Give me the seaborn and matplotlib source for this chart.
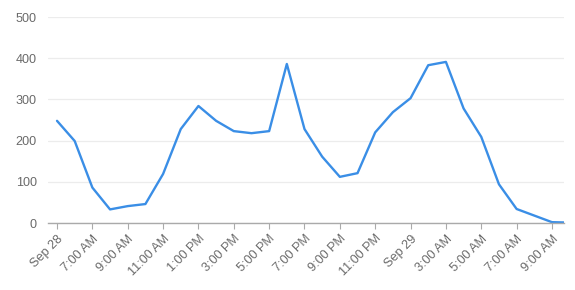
import numpy as np
import pandas as pd
import matplotlib
matplotlib.use("Agg")
import matplotlib.pyplot as plt
import matplotlib.dates as mdates
import seaborn as sns

# ---- data ----
start_time = "2021-09-28 05:00"
counts = [248, 199, 86, 33, 41, 46, 119, 228, 284, 248, 223, 218, 223, 386,
          228, 161, 112, 121, 220, 269, 303, 383, 391, 278, 209, 94, 34, 18, 2, 1]
tick_labels = ["Sep 28", "7:00 AM", "9:00 AM", "11:00 AM", "1:00 PM", "3:00 PM",
               "5:00 PM", "7:00 PM", "9:00 PM", "11:00 PM", "Sep 29", "3:00 AM",
               "5:00 AM", "7:00 AM", "9:00 AM"]
y_ticks = [0, 100, 200, 300, 400, 500]

times = pd.date_range(start_time, periods=len(counts), freq="h")
df = pd.DataFrame({"time": times, "count": counts})

sns.set_theme(style="white")
plt.rcParams["font.family"] = ["Liberation Sans", "DejaVu Sans"]

fig = plt.figure(figsize=(5.75, 2.9), dpi=100)
ax = fig.add_axes([48/575, (290-223)/290, (564-48)/575, (223-17)/290])

sns.lineplot(data=df, x="time", y="count", ax=ax, color="#3a8ee6", linewidth=1.7)

tick_pos = pd.date_range(start_time, periods=len(tick_labels), freq="2h")
ax.set_xticks(mdates.date2num(tick_pos))
ax.set_xticklabels(tick_labels, rotation=45, ha="right", rotation_mode="anchor",
                   fontsize=9.1, color="#6a6a6a")
ax.set_yticks(y_ticks)
ax.set_yticklabels([str(v) for v in y_ticks], fontsize=9.1, color="#6a6a6a")

t0 = mdates.date2num(pd.Timestamp(start_time))
ax.set_xlim(t0 - 0.51/24, t0 + 28.68/24)
ax.set_ylim(0, 500)

ax.grid(axis="y", color="#ececec", linewidth=0.9)
ax.set_axisbelow(True)
for s in ["top", "right", "left"]:
    ax.spines[s].set_visible(False)
ax.spines["bottom"].set_color("#aaaaaa")
ax.spines["bottom"].set_linewidth(1.0)
ax.tick_params(axis="x", length=4, width=0.8, color="#aaaaaa", pad=3, bottom=True)
ax.tick_params(axis="y", length=0, pad=8)
ax.set_xlabel("")
ax.set_ylabel("")

fig.savefig("out.png", dpi=100)
